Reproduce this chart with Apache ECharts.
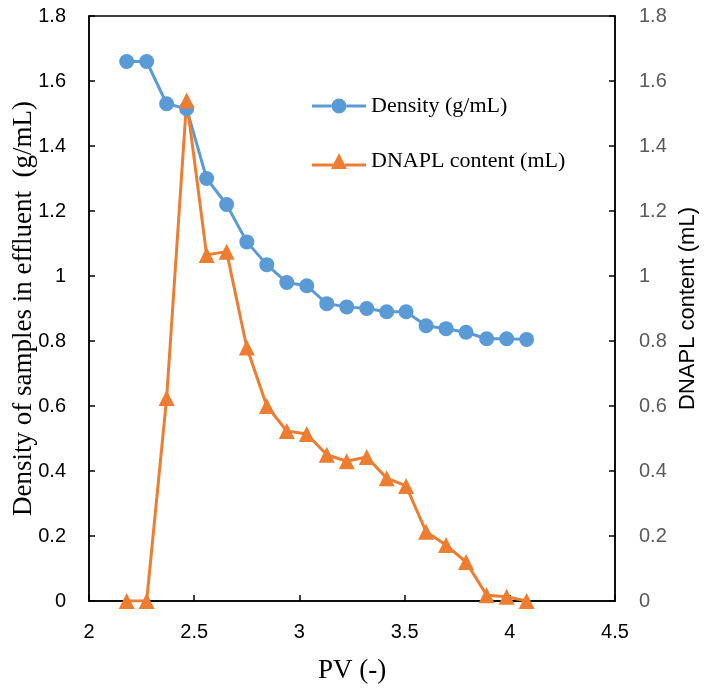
<!DOCTYPE html>
<html><head><meta charset="utf-8">
<script src="https://cdn.jsdelivr.net/npm/echarts@6/dist/echarts.min.js"></script>
<style>html,body{margin:0;padding:0;background:#fff}#c{width:718px;height:689px}</style>
</head><body><div id="c"></div>
<script>
const pv = [2.179, 2.274, 2.369, 2.464, 2.559, 2.654, 2.75, 2.845, 2.94, 3.035, 3.13, 3.225, 3.32, 3.415, 3.507, 3.602, 3.697, 3.792, 3.89, 3.985, 4.08];
const density = [1.66, 1.66, 1.53, 1.515, 1.30, 1.22, 1.105, 1.035, 0.98, 0.97, 0.915, 0.905, 0.90, 0.89, 0.89, 0.847, 0.838, 0.827, 0.807, 0.807, 0.805];
const dnapl = [0, 0, 0.625, 1.54, 1.065, 1.075, 0.78, 0.60, 0.523, 0.514, 0.45, 0.43, 0.443, 0.378, 0.354, 0.213, 0.172, 0.12, 0.018, 0.013, 0];
const seriesNames = ['Density (g/mL)', 'DNAPL content (mL)'];
const axisTitles = { x: 'PV (-)', yLeft: 'Density of samples in effluent  (g/mL)', yRight: 'DNAPL content (mL)' };

const circleIcon = 'path://M0,6.5H19.5V9.5H0Z M34.5,6.5H54V9.5H34.5Z M19.5,8A7.5,7.5 0 1,1 34.5,8A7.5,7.5 0 1,1 19.5,8Z';
const triIcon = 'path://M0,10.5H21V13.5H0Z M33,10.5H54V13.5H33Z M19,16L27,0L35,16Z';

const chart = echarts.init(document.getElementById('c'));
const sans = 'Liberation Sans';
const serif = 'Liberation Serif';
const tick = { show: true, inside: true, length: 6, lineStyle: { color: '#000', width: 1.5 } };
const line = { show: true, lineStyle: { color: '#000', width: 1.5 } };
chart.setOption({
  animation: false,
  grid: { left: 89, right: 103, top: 16, bottom: 88, containLabel: false, outerBoundsMode: 'none', show: true, borderColor: '#000', borderWidth: 1.5, backgroundColor: 'transparent' },
  legend: {
    orient: 'vertical', left: 307, top: 90,
    itemWidth: 54, itemHeight: 16, itemGap: 33,
    textStyle: { fontFamily: serif, fontSize: 22, color: '#000' },
    data: [
      { name: seriesNames[0], icon: circleIcon },
      { name: seriesNames[1], icon: triIcon }
    ]
  },
  xAxis: {
    type: 'value', min: 2, max: 4.5, interval: 0.5,
    name: axisTitles.x, nameLocation: 'middle', nameGap: 56, nameMoveOverlap: false,
    nameTextStyle: { fontFamily: serif, fontSize: 27, color: '#000' },
    axisLine: line, axisTick: tick,
    axisLabel: { fontFamily: sans, fontSize: 20, color: '#000', margin: 21 },
    splitLine: { show: false }
  },
  yAxis: [
    {
      type: 'value', min: 0, max: 1.8, interval: 0.2, position: 'left',
      name: axisTitles.yLeft, nameLocation: 'middle', nameGap: 52, nameRotate: 90, nameMoveOverlap: false,
      nameTextStyle: { fontFamily: serif, fontSize: 27, color: '#000' },
      axisLine: line, axisTick: tick,
      axisLabel: { fontFamily: sans, fontSize: 20, color: '#000', margin: 23 },
      splitLine: { show: false }
    },
    {
      type: 'value', min: 0, max: 1.8, interval: 0.2, position: 'right',
      name: axisTitles.yRight, nameLocation: 'middle', nameGap: 62, nameRotate: 90, nameMoveOverlap: false,
      nameTextStyle: { fontFamily: sans, fontSize: 22, color: '#000' },
      axisLine: line, axisTick: tick,
      axisLabel: { fontFamily: sans, fontSize: 20, color: '#595959', margin: 24 },
      splitLine: { show: false }
    }
  ],
  series: [
    {
      name: seriesNames[0], type: 'line', yAxisIndex: 0,
      data: pv.map((x, i) => [x, density[i]]),
      symbol: 'circle', symbolSize: 15,
      lineStyle: { color: '#5B9BD5', width: 3 },
      itemStyle: { color: '#5B9BD5' }
    },
    {
      name: seriesNames[1], type: 'line', yAxisIndex: 1,
      data: pv.map((x, i) => [x, dnapl[i]]),
      symbol: 'triangle', symbolSize: 16,
      lineStyle: { color: '#ED7D31', width: 3 },
      itemStyle: { color: '#ED7D31' }
    }
  ]
});
</script></body></html>
